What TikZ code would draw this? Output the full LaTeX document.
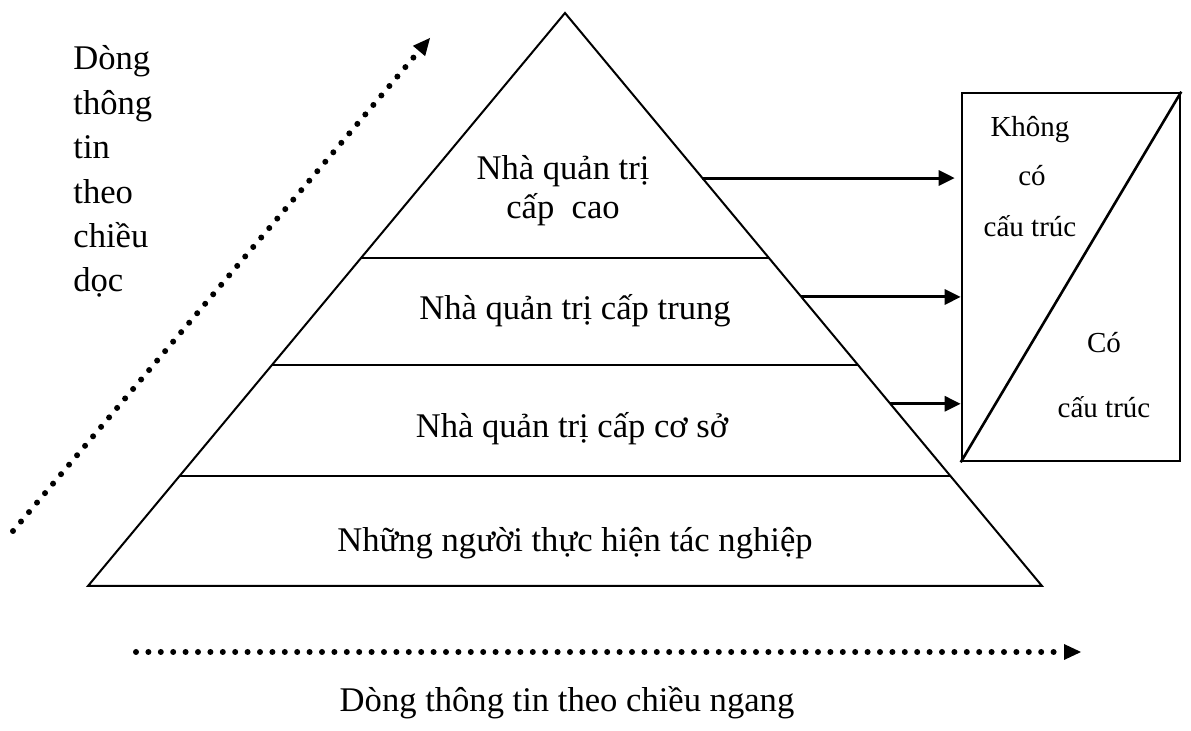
\documentclass[tikz,border=0pt]{standalone}
\usepackage{fontspec}
\setmainfont{Liberation Serif}
\usetikzlibrary{calc,arrows.meta}

\begin{document}
\begin{tikzpicture}[
    x=0.5pt, y=-0.5pt,
    lvl/.style={font=\fontsize{17.3}{20}\selectfont, inner sep=0pt, anchor=base},
    tag/.style={font=\fontsize{14.5}{17}\selectfont, inner sep=0pt, anchor=base},
    side/.style={font=\fontsize{17.3}{20}\selectfont, inner sep=0pt, anchor=base west},
    edge/.style={line width=1pt},
    box/.style={draw, line width=1.3pt, inner sep=0pt, minimum width=109pt, minimum height=184pt},
    arr/.style={-{Triangle[length=8pt,width=7.5pt]}, line width=1.5pt},
    flow/.style={line width=3pt, line cap=round, dash pattern=on 0pt off 6.2pt, -{Triangle[length=8.5pt,width=8pt,line width=0pt]}},
]
    \useasboundingbox (0,0) rectangle (1191,731);

    % --- Pyramid ---
    \coordinate (apex) at (565,13);
    \coordinate (bl) at (88,586);
    \coordinate (br) at (1042,586);
    \draw[edge] (apex) -- (bl) -- (br) -- cycle;
    \foreach \t in {0.4276,0.614,0.808}
        \draw[edge] ($(apex)!\t!(bl)$) -- ($(apex)!\t!(br)$);

    \node[lvl] (top1) at (563,180) {Nhà quản trị};
    \node[lvl] (top2) at (563,219) {cấp\ \ cao};
    \node[lvl] (mid) at (575,320) {Nhà quản trị cấp trung};
    \node[lvl] (low) at (572,438) {Nhà quản trị cấp cơ sở};
    \node[lvl] (ops) at (575,552) {Những người thực hiện tác nghiệp};

    % --- Structure box ---
    \node[box] (box) at (1071,277) {};
    \draw[line width=1.3pt] (box.south west) -- (box.north east);
    \node[tag] (ns1) at (1030,137) {Không};
    \node[tag] (ns2) at (1032,186) {có};
    \node[tag] (ns3) at (1030,237) {cấu trúc};
    \node[tag] (st1) at (1104,353) {Có};
    \node[tag] (st2) at (1104,418) {cấu trúc};

    % --- Arrows to the box ---
    \coordinate (r1) at ($(apex)!0.288!(br)$);
    \coordinate (r2) at ($(apex)!0.4956!(br)$);
    \coordinate (r3) at ($(apex)!0.682!(br)$);
    \draw[arr, shorten >=3pt] (r1) -- (r1 -| box.west);
    \draw[arr] (r2) -- (r2 -| box.west);
    \draw[arr] (r3) -- (r3 -| box.west);

    % --- Vertical flow ---
    \coordinate (vstart) at (13,531);
    \coordinate (vend) at (430,38);
    \draw[flow] (vstart) -- (vend);
    \foreach \w/\yb [count=\i] in {Dòng/70, thông/115, tin/159, theo/204, chiều/248, dọc/292}
        \node[side] (vt\i) at (73,\yb) {\w};

    % --- Horizontal flow ---
    \coordinate (hstart) at (136,652);
    \coordinate (hend) at (1081,652);
    \draw[flow] (hstart) -- (hend);
    \node[lvl] (htext) at (567,712) {Dòng thông tin theo chiều ngang};
\end{tikzpicture}
\end{document}
